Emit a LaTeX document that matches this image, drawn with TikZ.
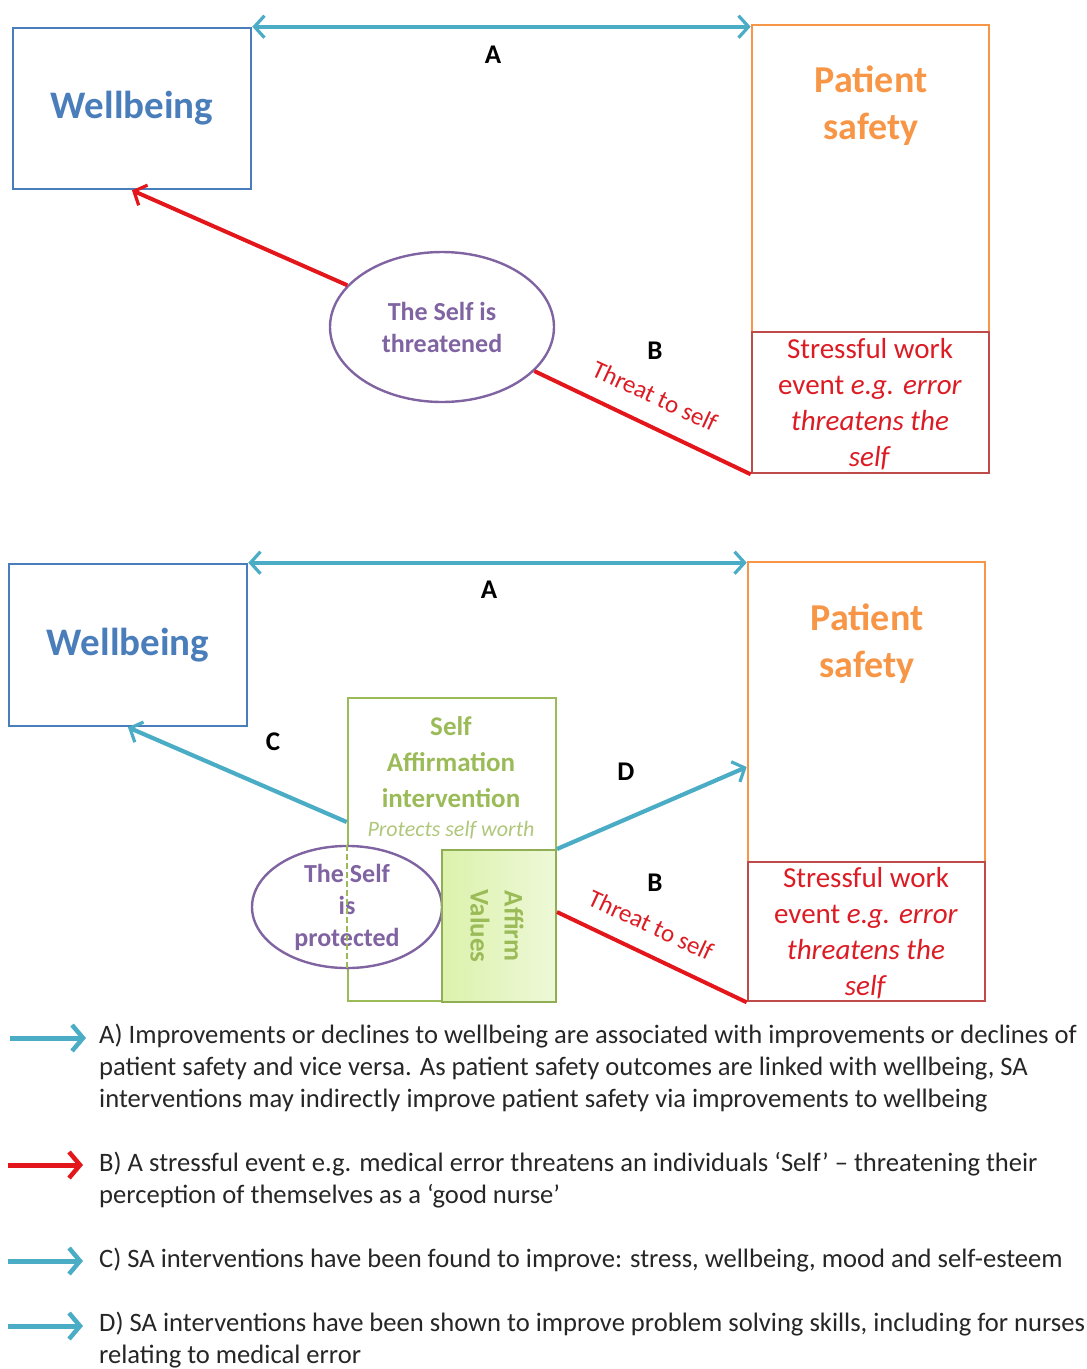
\documentclass[tikz,border=0pt]{standalone}
\usepackage{fontspec}
\setmainfont{Carlito}
\usetikzlibrary{arrows.meta,shapes.geometric}

\definecolor{wbblue}{HTML}{4A7EBB}
\definecolor{psorange}{HTML}{F79646}
\definecolor{stbrown}{HTML}{BE4B48}
\definecolor{stred}{HTML}{DC1C24}
\definecolor{linkred}{HTML}{E3161B}
\definecolor{linkcyan}{HTML}{4BACC6}
\definecolor{selfpurple}{HTML}{8064A2}
\definecolor{sagreen}{HTML}{9BBB59}
\definecolor{saedge}{HTML}{8FAE55}
\definecolor{salight}{HTML}{AFC77A}
\definecolor{avleft}{HTML}{DCF2AC}
\definecolor{avright}{HTML}{EEF8D8}
\definecolor{legendtext}{HTML}{262626}

\newcommand{\fs}[2]{\fontsize{#1}{#2}\selectfont}

\begin{document}
\begin{tikzpicture}[x=1pt,y=-1pt,
  frame/.style={draw, line width=2.6pt, inner sep=0pt},
  wbbox/.style={frame, draw=wbblue, minimum width=238pt, minimum height=161pt,
    text=wbblue, font=\fs{39}{47}\bfseries},
  psbox/.style={frame, draw=psorange, minimum width=237pt},
  stbox/.style={frame, draw=stbrown, minimum width=237pt},
  pstext/.style={text=psorange, font=\fs{38}{47}\bfseries, align=center},
  sttext/.style={text=stred, font=\fs{29}{36}\selectfont, align=center},
  selfell/.style={ellipse, draw=selfpurple, line width=2.4pt, inner sep=0pt,
    text=selfpurple, font=\fs{26}{32}\bfseries, align=center},
  letter/.style={font=\fs{27}{30}\bfseries, text=black},
  threat/.style={text=stred, font=\fs{25}{30}\selectfont},
  cyanlink/.style={draw=linkcyan, line width=4.2pt,
    -{Straight Barb[length=10pt,width=22pt,line width=3.2pt]}},
  cyanboth/.style={draw=linkcyan, line width=4.2pt,
    {Straight Barb[length=10pt,width=22pt,line width=3.2pt]}-{Straight Barb[length=10pt,width=22pt,line width=3.2pt]}},
  redlink/.style={draw=linkred, line width=4pt,
    -{Straight Barb[length=10pt,width=22pt,line width=3.2pt]}},
  redline/.style={draw=linkred, line width=4pt},
  keyarrow/.style={line width=5pt,
    -{Straight Barb[length=11pt,width=26pt,line width=4.5pt]}},
  keytext/.style={anchor=west, inner sep=0pt, text=legendtext,
    font=\fs{26.6}{32}\selectfont, text height=0.7em, text depth=0.2em}
]
\useasboundingbox (0,0) rectangle (1087,1369);

% ---------- upper panel: the self is threatened ----------
\node[wbbox] (wb1) at (132,108.5) {Wellbeing};
\node[psbox, minimum height=307pt] (ps1) at (870.5,178.5) {};
\node[stbox, minimum height=141pt] (st1) at (870.5,402.5) {};
\node[pstext] (ps1t) at (871,106) {Patient\\safety};
\node[sttext] (st1t) at (870,404) {Stressful work\\event \textit{e.g. error}\\\textit{threatens the}\\\textit{self}};
\node[selfell, minimum width=224pt, minimum height=150pt] (el1) at (442,327) {The Self is\\threatened};

\draw[cyanboth] (wb1.north east) -- (wb1.north east -| ps1.west);
\node[letter] (a1) at (493,55) {A};
\draw[redlink] (el1) -- (wb1.south);
\draw[redline] (el1) -- (st1.south west);
\node[letter] (b1) at (655,351) {B};
\node[threat, rotate=-24.8] (t1) at (655,396) {Threat to self};

% ---------- lower panel: the self is protected ----------
\node[wbbox, minimum height=162pt] (wb2) at (128,645) {Wellbeing};
\node[psbox, minimum height=300pt] (ps2) at (866.5,712) {};
\node[stbox, minimum height=139pt] (st2) at (866.5,931.5) {};
\node[pstext] (ps2t) at (867,643.5) {Patient\\safety};
\node[sttext] (st2t) at (866,933) {Stressful work\\event \textit{e.g. error}\\\textit{threatens the}\\\textit{self}};

\node[frame, draw=sagreen, minimum width=208pt, minimum height=303pt] (sa) at (452,849.5) {};
\node[text=sagreen, font=\fs{27}{36}\bfseries, align=center] (sat) at (451,762) {Self\\Affirmation\\intervention};
\node[text=salight, font=\fs{22}{26}\itshape] (sap) at (451,830) {Protects self worth};

\node[selfell, fill=white, minimum width=190pt, minimum height=114pt] (el2) at (347,907) {The Self\\is\\protected};
\draw[draw=sagreen, line width=1.6pt, dash pattern=on 6pt off 3pt]
  (el2.north -| sa.west) -- (el2.south -| sa.west);

\node[frame, draw=saedge, line width=2pt, left color=avleft, right color=avright,
  minimum width=114pt, minimum height=152pt] (av) at (499,926) {};
\node[text=sagreen, font=\fs{27}{34}\bfseries, align=center, rotate=-90] (avt) at (497,926) {Affirm\\Values};

\draw[cyanboth] (wb2.north east) -- (wb2.north east -| ps2.west);
\node[letter] (a2) at (489,590) {A};
\draw[cyanlink] (sa.west |- 0,822) -- (wb2.south);
\node[letter] (c2) at (273,742) {C};
\draw[cyanlink] (av.north east) -- (ps2.west |- 0,767);
\node[letter] (d2) at (626,772) {D};
\draw[redline] (av.east |- 0,912) -- (st2.south west);
\node[letter] (b2) at (655,883) {B};
\node[threat, rotate=-24.9] (t2) at (651,925) {Threat to self};

% ---------- key ----------
\coordinate (ka0) at (10,1038);  \coordinate (ka1) at (86,1038);
\coordinate (kb0) at (8,1165);   \coordinate (kb1) at (83,1165);
\coordinate (kc0) at (8,1261);   \coordinate (kc1) at (83,1261);
\coordinate (kd0) at (8,1326);   \coordinate (kd1) at (83,1326);
\draw[keyarrow, draw=linkcyan] (ka0) -- (ka1);
\draw[keyarrow, draw=linkred] (kb0) -- (kb1);
\draw[keyarrow, draw=linkcyan] (kc0) -- (kc1);
\draw[keyarrow, draw=linkcyan] (kd0) -- (kd1);

\node[keytext] (ka) at (99,1041) {A) Improvements or declines to wellbeing are associated with improvements or declines of};
\node[keytext] (ka2) at (99,1073) {patient safety and vice versa. As patient safety outcomes are linked with wellbeing, SA};
\node[keytext] (ka3) at (99,1105) {interventions may indirectly improve patient safety via improvements to wellbeing};
\node[keytext] (kb) at (99,1169) {B) A stressful event e.g. medical error threatens an individuals ‘Self’ – threatening their};
\node[keytext] (kb2) at (99,1201) {perception of themselves as a ‘good nurse’};
\node[keytext] (kc) at (99,1265) {C) SA interventions have been found to improve: stress, wellbeing, mood and self-esteem};
\node[keytext] (kd) at (99,1329) {D) SA interventions have been shown to improve problem solving skills, including for nurses};
\node[keytext] (kd2) at (99,1361) {relating to medical error};
\end{tikzpicture}
\end{document}
